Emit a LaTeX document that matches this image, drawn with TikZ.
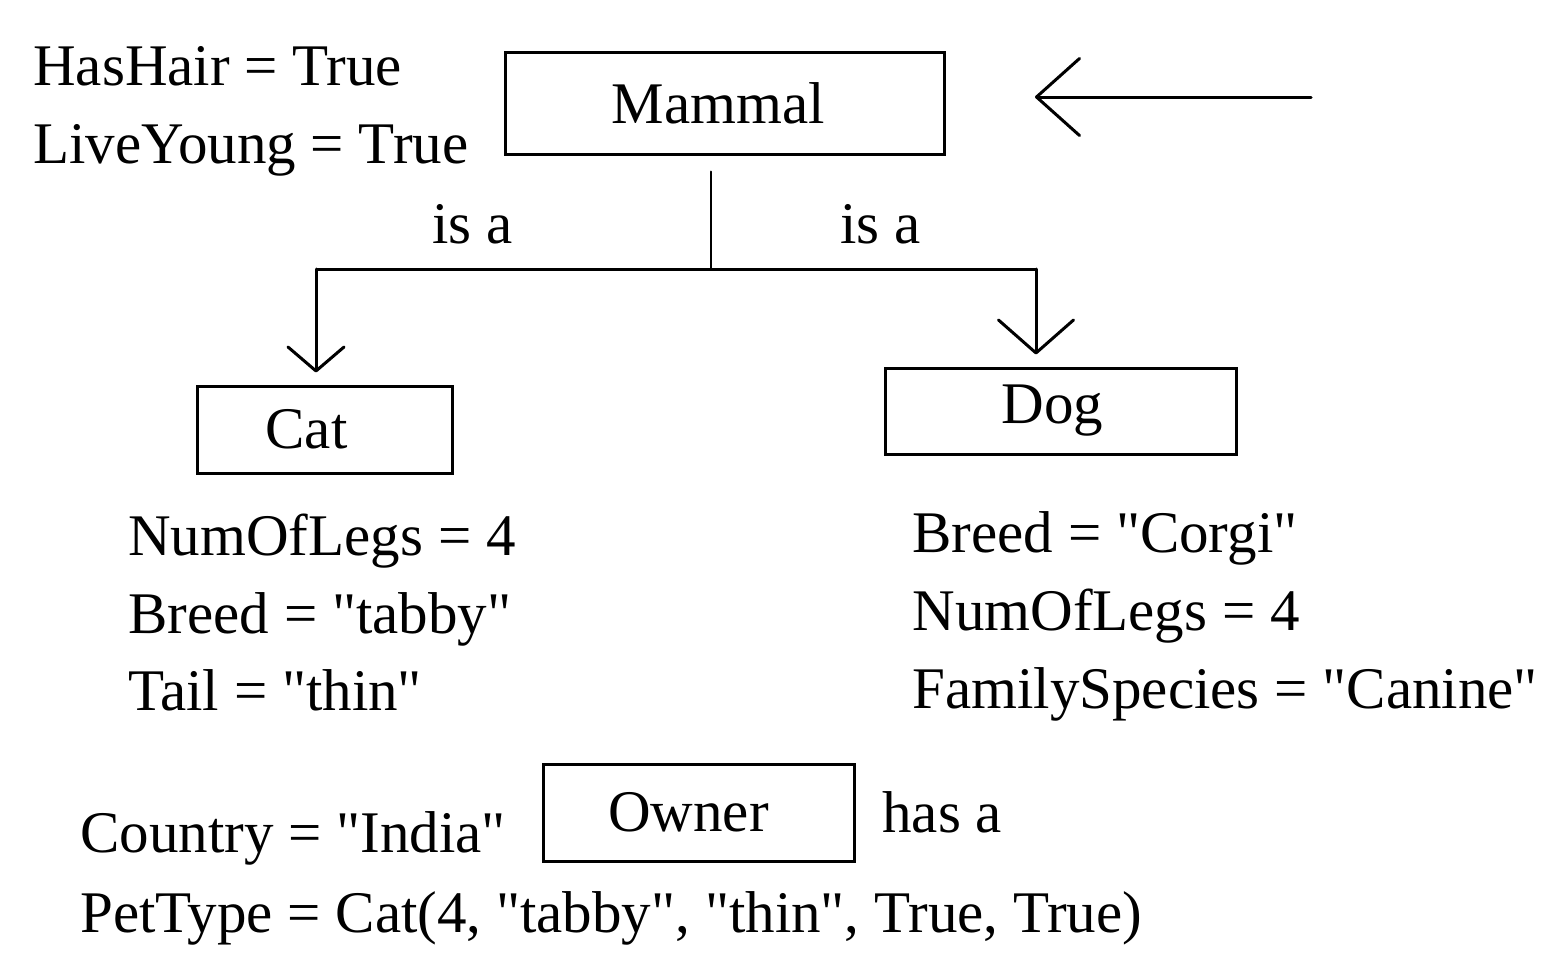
\documentclass[tikz,border=0pt]{standalone}
\usepackage{fontspec}
\setmainfont{Liberation Serif}[Ligatures=TeXOff]
\usetikzlibrary{arrows.meta}
\newcommand{\diagfont}{\fontsize{29.5}{35}\selectfont}

\begin{document}
\begin{tikzpicture}[x=0.5pt, y=-0.5pt,
	every node/.style={font=\diagfont},
	classbox/.style={draw, line width=1.5pt, inner sep=0pt},
	attr/.style={anchor=base west, inner sep=0pt},
	link/.style={line width=1.5pt, line cap=round}]
			%%%%% START %%%%%
			
			\useasboundingbox (0, 0) rectangle (1560, 969);
			
			% classes
			\node[classbox, minimum width=219.5pt, minimum height=51pt] (mammal) at (724.5, 103) {Mammal\hspace*{6pt}};
			\node[classbox, minimum width=127.5pt, minimum height=43.5pt] (cat) at (324.5, 429.5) {Cat\hspace*{18pt}};
			\node[classbox, minimum width=175.5pt, minimum height=43pt] (dog) at (1060.5, 411) {Dog\hspace*{8pt}};
			\node[classbox, minimum width=155.5pt, minimum height=48.5pt] (owner) at (698.5, 812.5) {Owner\hspace*{10pt}};
			
			% attributes
			\node[attr] (hashair) at (33, 85) {HasHair = True};
			\node[attr] (liveyoung) at (33, 163) {LiveYoung = True};
			
			\node[attr] (catlegs) at (128, 555) {NumOfLegs = 4};
			\node[attr] (catbreed) at (128, 633) {Breed = "tabby"};
			\node[attr] (cattail) at (128, 710) {Tail = "thin"};
			
			\node[attr] (dogbreed) at (912, 552) {Breed = "Corgi"};
			\node[attr] (doglegs) at (912, 630) {NumOfLegs = 4};
			\node[attr] (dogfamily) at (912, 708) {FamilySpecies = "Canine"};
			
			\node[attr] (country) at (80, 852) {Country = "India"};
			\node[attr] (pettype) at (80, 932) {PetType = Cat(4, "tabby", "thin", True, True)};
			
			% relations
			\node[attr] (isaleft) at (432, 243) {is a};
			\node[attr] (isaright) at (840, 243) {is a};
			\node[attr] (hasa) at (882, 832) {has a};
			
			\coordinate (fork) at (711, 269);
			\coordinate (lfork) at (316, 269);
			\coordinate (rfork) at (1036, 269);
			\coordinate (instart) at (1311, 97);
			\coordinate (inend) at (1035, 97);
			
			\draw[link, line width=1pt, shorten <=8pt] (fork |- mammal.south) -- (fork);
			\draw[link, line cap=butt] (lfork) -- (rfork);
			\draw[link, -{Straight Barb[length=12pt, width=28pt, round]}, shorten >=6pt] (lfork) -- (lfork |- cat.north);
			\draw[link, -{Straight Barb[length=16.5pt, width=37.5pt, round]}, shorten >=6pt] (rfork) -- (rfork |- dog.north);
			
			\draw[link, -{Straight Barb[length=21.5pt, width=38.5pt, round]}] (instart) -- (inend);
			
			%%%%% END %%%%%
		\end{tikzpicture}
\end{document}
